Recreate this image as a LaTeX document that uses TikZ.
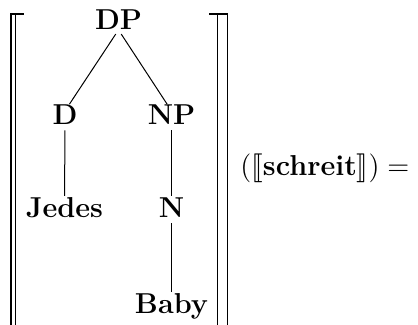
\documentclass[tikz,border=0pt]{standalone}
\usepackage{amsmath}
\usepackage{stmaryrd}
\begin{document}
\begin{tikzpicture}[x=0.5pt,y=-0.5pt,
  lbl/.style={inner sep=0pt,anchor=base,text height=0.686em,text depth=0pt,font=\Large\bfseries},
  edge/.style={line width=0.5pt,shorten <=2.5pt,shorten >=4pt},
  brk/.style={line width=0.65pt}]
\useasboundingbox (0,0) rectangle (418,325);
% tree nodes
\node[lbl] (dp) at (118.5,29.5) {DP};
\node[lbl] (d) at (65,125) {D};
\node[lbl] (np) at (171.5,125) {NP};
\node[lbl] (jedes) at (64.5,218) {Jedes};
\node[lbl] (n) at (171.5,218) {N};
\node[lbl] (baby) at (171.5,314) {Baby};
% edges
\draw[edge] (dp.south) -- (d.north);
\draw[edge] (dp.south) -- (np.north);
\draw[edge] (d.south) -- (jedes.north);
\draw[edge] (np.south) -- (n.north);
\draw[edge] (n.south) -- (baby.north);
% big double brackets
\draw[brk] (11,326) -- (11,14) -- (24,14);
\draw[brk] (15.5,326) -- (15.5,14);
\draw[brk] (209,14) -- (227.5,14) -- (227.5,326);
\draw[brk] (217.5,14) -- (217.5,326);
% argument
\node[inner sep=0pt,anchor=base west] (arg) at (240,175.5)
  {\Large$(\llbracket\textbf{schreit}\rrbracket) =$};
\end{tikzpicture}
\end{document}
